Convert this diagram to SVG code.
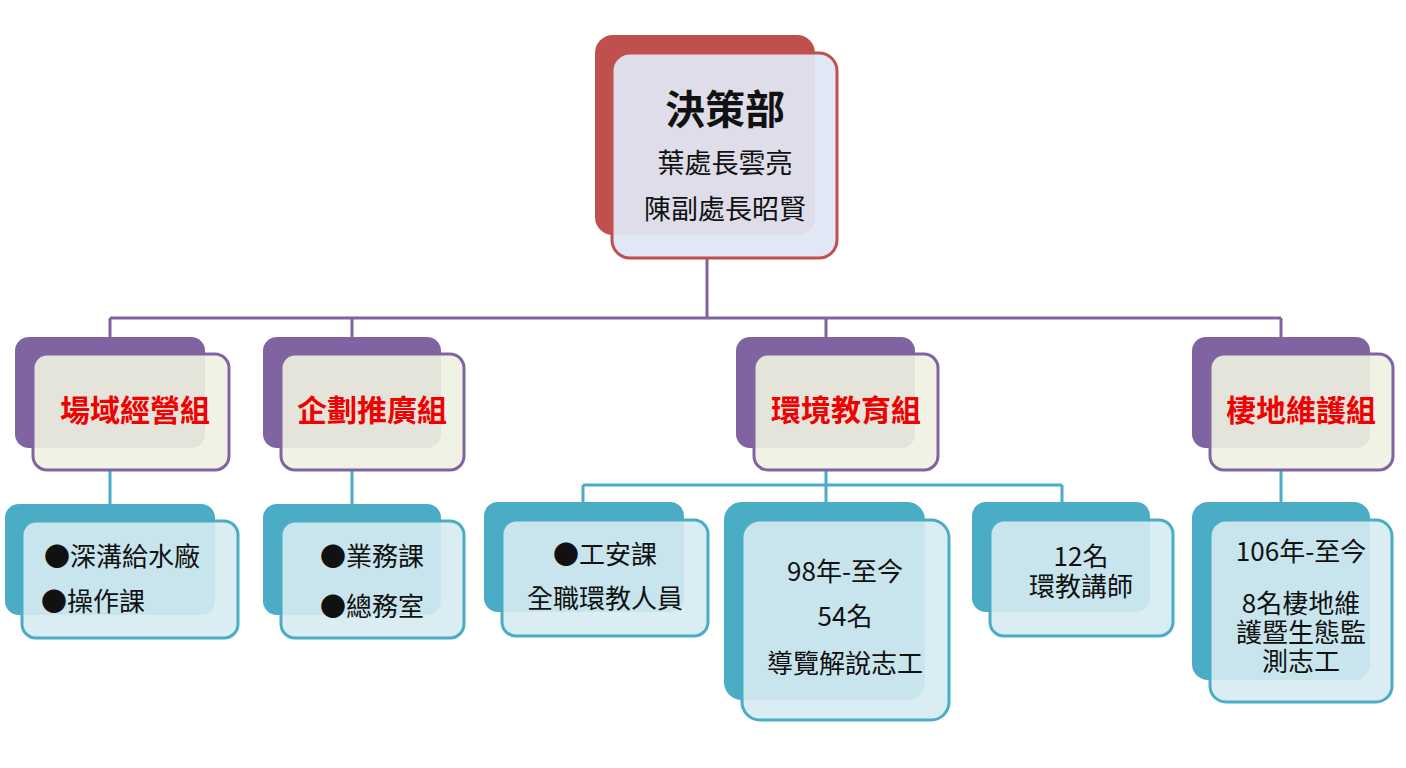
<svg xmlns="http://www.w3.org/2000/svg" width="1406" height="768" viewBox="0 0 1406 768">
<style>
text{font-family:"Noto Sans CJK TC","Noto Sans CJK SC",sans-serif;text-anchor:middle;fill:#111}
.rb{fill:#C0504D}.rf{fill:#DFE5F3;fill-opacity:.94;stroke:#C0504D;stroke-width:3}
.pb{fill:#8064A2}.pf{fill:#EEF2E0;fill-opacity:.9;stroke:#8064A2;stroke-width:3}
.cb{fill:#4BACC6}.cf{fill:#D6EBF1;fill-opacity:.9;stroke:#4BACC6;stroke-width:3}
.m{font-size:30px;font-weight:bold;fill:#F00000}
.l{font-size:26px}
.pc{stroke:#8064A2;stroke-width:3;fill:none}.cc{stroke:#4BACC6;stroke-width:3;fill:none}
</style>
<rect width="1406" height="768" fill="#fff"/>
<g id="connectors">
<path class="pc" d="M707 258V318M110 318H1281M110 318V337M352 318V337M826 318V337M1281 318V337"/>
<path class="cc" d="M110 470V504M352 470V504M826 470V485M583 485H1062M583 485V502M826 485V502M1062 485V502M1281 470V502"/>
</g>
<g id="top"><rect class="rb" x="595" y="35" width="220" height="200" rx="18"/><rect class="rf" x="612" y="53" width="225" height="205" rx="18"/>
<text x="725" y="124" style="font-size:40px;font-weight:bold">決策部</text><text x="725" y="173" style="font-size:27px">葉處長雲亮</text><text x="725" y="219" style="font-size:27px">陳副處長昭賢</text></g>
<g id="m1"><rect class="pb" x="15" y="337" width="190" height="111" rx="14"/><rect class="pf" x="33" y="354" width="196" height="116" rx="14"/><text x="135" y="421" class="m">場域經營組</text></g>
<g id="m2"><rect class="pb" x="263" y="337" width="178" height="111" rx="14"/><rect class="pf" x="281" y="354" width="183" height="116" rx="14"/><text x="372" y="421" class="m">企劃推廣組</text></g>
<g id="m3"><rect class="pb" x="736" y="337" width="179" height="111" rx="14"/><rect class="pf" x="754" y="354" width="184" height="116" rx="14"/><text x="846" y="421" class="m">環境教育組</text></g>
<g id="m4"><rect class="pb" x="1192" y="337" width="178" height="111" rx="14"/><rect class="pf" x="1210" y="354" width="183" height="116" rx="14"/><text x="1301" y="421" class="m">棲地維護組</text></g>
<g id="l1"><rect class="cb" x="5" y="504" width="210" height="111" rx="14"/><rect class="cf" x="22" y="521" width="216" height="117" rx="14"/><text x="122" y="566" class="l">●深溝給水廠</text><text x="93" y="611" class="l">●操作課</text></g>
<g id="l2"><rect class="cb" x="263" y="504" width="178" height="111" rx="14"/><rect class="cf" x="281" y="521" width="183" height="117" rx="14"/><text x="372" y="566" class="l">●業務課</text><text x="372" y="616" class="l">●總務室</text></g>
<g id="l3"><rect class="cb" x="484" y="502" width="200" height="110" rx="14"/><rect class="cf" x="502" y="520" width="206" height="116" rx="14"/><text x="605" y="564" class="l">●工安課</text><text x="605" y="608" class="l">全職環教人員</text></g>
<g id="l4"><rect class="cb" x="724" y="502" width="201" height="198" rx="18"/><rect class="cf" x="742" y="520" width="207" height="200" rx="18"/><text x="845" y="581" class="l">98年-至今</text><text x="845" y="626" class="l">54名</text><text x="845" y="673" class="l">導覽解說志工</text></g>
<g id="l5"><rect class="cb" x="972" y="502" width="178" height="110" rx="14"/><rect class="cf" x="990" y="520" width="183" height="116" rx="14"/><text x="1081" y="566" class="l">12名</text><text x="1081" y="596" class="l">環教講師</text></g>
<g id="l6"><rect class="cb" x="1192" y="502" width="178" height="178" rx="16"/><rect class="cf" x="1210" y="520" width="182" height="182" rx="16"/><text x="1301" y="561" class="l">106年-至今</text><text x="1301" y="613" class="l">8名棲地維</text><text x="1301" y="642" class="l">護暨生態監</text><text x="1301" y="671" class="l">測志工</text></g>
</svg>
